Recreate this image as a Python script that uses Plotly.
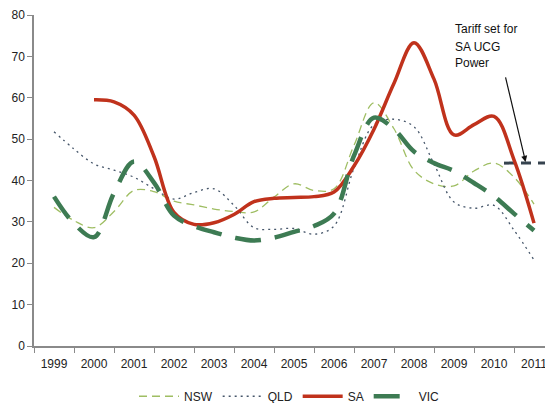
import plotly.graph_objects as go

# Half-yearly periods
periods = [1999.0, 1999.5, 2000.0, 2000.5, 2001.0, 2001.5, 2002.0, 2002.5,
           2003.0, 2003.5, 2004.0, 2004.5, 2005.0, 2005.5, 2006.0, 2006.5,
           2007.0, 2007.5, 2008.0, 2008.5, 2009.0, 2009.5, 2010.0, 2010.5,
           2011.0]

nsw = [33.5, 30.3, 28.6, 32.5, 37.6, 37.3, 35.0, 34.1, 33.1, 32.5, 32.4, 36.0,
       39.2, 37.6, 38.0, 48.5, 58.8, 52.5, 42.5, 39.2, 38.7, 42.3, 44.2, 40.8,
       34.3]
qld = [51.8, 47.6, 44.0, 42.5, 40.8, 38.0, 35.5, 37.1, 38.0, 34.0, 28.6, 28.2,
       28.4, 27.0, 29.0, 43.0, 53.5, 54.8, 53.0, 44.0, 34.8, 33.3, 34.0, 28.0,
       20.8]
sa = [None, None, 59.5, 59.0, 55.8, 45.8, 32.3, 29.4, 29.8, 31.8, 34.9, 35.7,
      35.9, 36.1, 37.2, 43.5, 52.4, 63.5, 73.3, 64.5, 51.0, 53.5, 55.5, 45.0,
      29.7]
vic = [36.1, 29.6, 26.3, 37.0, 44.6, 39.5, 31.5, 29.0, 27.5, 26.2, 25.5, 26.2,
       27.6, 29.0, 32.0, 46.0, 55.2, 52.4, 47.0, 44.2, 42.3, 39.4, 36.2, 32.0,
       27.9]

tariff_span = [2010.25, 2011.5]
tariff_value = 44.2

year_labels = ["1999", "2000", "2001", "2002", "2003", "2004", "2005", "2006",
               "2007", "2008", "2009", "2010", "2011"]
year_vals = [1999, 2000, 2001, 2002, 2003, 2004, 2005, 2006, 2007, 2008, 2009,
             2010, 2011]
boundaries = [1998.5, 1999.5, 2000.5, 2001.5, 2002.5, 2003.5, 2004.5, 2005.5,
              2006.5, 2007.5, 2008.5, 2009.5, 2010.5]

FONT = "Liberation Sans, Arial, sans-serif"

fig = go.Figure()

fig.add_trace(go.Scatter(
    x=tariff_span, y=[tariff_value, tariff_value], mode="lines",
    line=dict(color="#36434f", width=3, dash="10px,7px"),
    showlegend=False, hoverinfo="skip"))

fig.add_trace(go.Scatter(
    x=periods, y=nsw, name="NSW", mode="lines",
    line=dict(color="#9fbe63", width=1.3, dash="8px,5px", shape="spline",
              smoothing=1.0)))
fig.add_trace(go.Scatter(
    x=periods, y=qld, name="QLD", mode="lines",
    line=dict(color="#46566a", width=1.3, dash="2px,4px", shape="spline",
              smoothing=1.0)))
fig.add_trace(go.Scatter(
    x=periods, y=sa, name="SA", mode="lines",
    line=dict(color="#c0321c", width=3.5, shape="spline", smoothing=1.0)))
fig.add_trace(go.Scatter(
    x=periods, y=vic, name="VIC", mode="lines",
    line=dict(color="#3d7b53", width=4.5, dash="26px,14px", shape="spline",
              smoothing=1.0)))

# Callout for the tariff line
callout = ["Tariff set for", "SA UCG", "Power"]
callout_y = [76.6, 72.3, 68.4]
for txt, yy in zip(callout, callout_y):
    fig.add_annotation(x=2008.97, y=yy, text=txt, showarrow=False,
                       xanchor="left", yanchor="middle",
                       font=dict(family=FONT, size=12, color="#111"))
fig.add_annotation(x=2010.79, y=tariff_value + 0.3, ax=2010.28, ay=65.3,
                   axref="x", ayref="y", xref="x", yref="y", text="",
                   showarrow=True, arrowhead=2, arrowsize=1, arrowwidth=1.2,
                   arrowcolor="#111")

fig.update_layout(
    width=545, height=403,
    margin=dict(l=34, r=0, t=15, b=57, autoexpand=False),
    paper_bgcolor="white", plot_bgcolor="white",
    font=dict(family=FONT, size=12, color="#222"),
    legend=dict(orientation="h", x=0.5, xanchor="center", y=-0.108,
                yanchor="top", font=dict(family=FONT, size=12, color="#222"),
                itemwidth=40, tracegroupgap=0),
    xaxis=dict(range=[1998.5, 2011.275], tickvals=year_vals,
               ticktext=year_labels, ticks="", showgrid=False, zeroline=False,
               showline=True, linecolor="#8a8a8a", linewidth=1.5,
               ticklabeloverflow="allow", ticklabelstandoff=6,
               tickfont=dict(size=12, color="#222"),
               minor=dict(tickvals=boundaries, ticks="outside", ticklen=5,
                          tickcolor="#8a8a8a", tickwidth=1.2, showgrid=False)),
    yaxis=dict(range=[0, 80], dtick=10, ticks="outside", ticklen=5,
               tickcolor="#8a8a8a", tickwidth=1.2, showgrid=False,
               zeroline=False, showline=True, linecolor="#8a8a8a",
               linewidth=1.5, tickfont=dict(size=12, color="#222")),
)

fig.write_html("out.html")
